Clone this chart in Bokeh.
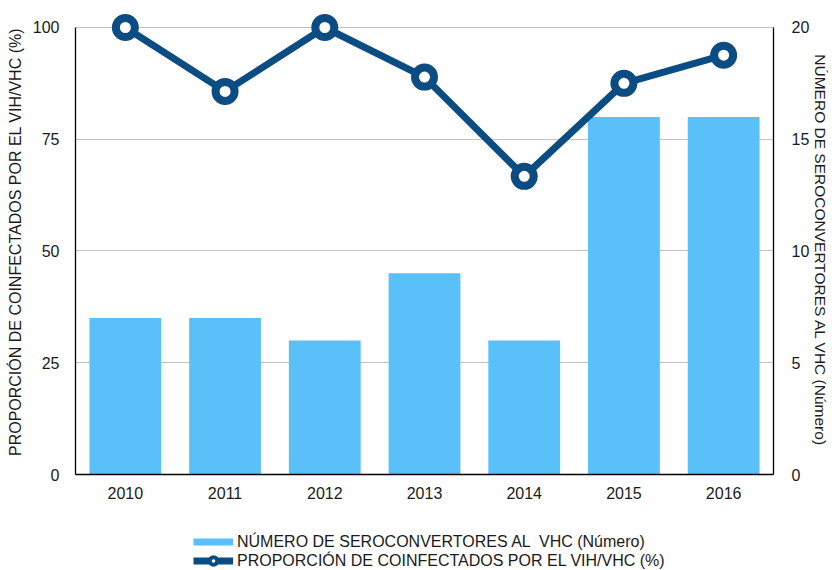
from bokeh.plotting import figure
from bokeh.layouts import column
from bokeh.models import (Range1d, FactorRange, LinearAxis, FixedTicker, Legend,
                          LegendItem, ColumnDataSource)
from bokeh.embed import file_html
from bokeh.resources import INLINE

years = ["2010", "2011", "2012", "2013", "2014", "2015", "2016"]
seroconvertores = [7, 7, 6, 9, 6, 16, 16]
proporcion = [100, 85.7, 100, 88.9, 66.7, 87.5, 93.8]
left_ticks = [0, 25, 50, 75, 100]
right_ticks = [0, 5, 10, 15, 20]

bar_label = "NÚMERO DE SEROCONVERTORES AL  VHC (Número)"
line_label = "PROPORCIÓN DE COINFECTADOS POR EL VIH/VHC (%)"
left_title = "PROPORCIÓN DE COINFECTADOS POR EL VIH/VHC (%)"
right_title = "NÚMERO DE SEROCONVERTORES AL VHC (Número)"

BAR = "#5ac0fa"
LINE = "#0b4c82"
FONT = "Liberation Sans"
TXT = "#1a1a1a"
NB = "\u00a0"

src = ColumnDataSource(dict(year=years, n=seroconvertores, p=proporcion))

p = figure(x_range=FactorRange(*years, range_padding=0), y_range=Range1d(0, 106.04),
           width=832, height=520, output_backend="svg", toolbar_location=None,
           min_border_left=75, min_border_right=56, min_border_top=0, min_border_bottom=46)
p.outline_line_color = None
p.background_fill_color = "white"

p.extra_y_ranges = {"n": Range1d(0, 21.208)}

# left axis
ya = p.yaxis[0]
ya.ticker = FixedTicker(ticks=left_ticks)
ya.bounds = (0, 100)
ya.axis_label = left_title + NB * 2
ya.axis_label_text_font = FONT
ya.axis_label_text_font_size = "16px"
ya.axis_label_text_font_style = "normal"
ya.axis_label_text_color = TXT
ya.axis_label_standoff = 6
ya.major_label_text_font = FONT
ya.major_label_text_font_size = "16px"
ya.major_label_text_color = TXT
ya.major_label_standoff = 10
ya.major_tick_line_color = None
ya.minor_tick_line_color = None
ya.axis_line_color = "black"
ya.axis_line_width = 1.3

ra = LinearAxis(y_range_name="n", ticker=FixedTicker(ticks=right_ticks), bounds=(0, 20))
ra.axis_label = NB * 6 + right_title
ra.axis_label_text_font = FONT
ra.axis_label_text_font_size = "15.5px"
ra.axis_label_text_font_style = "normal"
ra.axis_label_text_color = TXT
ra.axis_label_standoff = 0
ra.major_label_text_font = FONT
ra.major_label_text_font_size = "16px"
ra.major_label_text_color = TXT
ra.major_label_standoff = 12
ra.major_tick_line_color = None
ra.minor_tick_line_color = None
ra.axis_line_color = "black"
ra.axis_line_width = 1.3
p.add_layout(ra, "right")

xa = p.xaxis[0]
xa.major_label_text_font = FONT
xa.major_label_text_font_size = "16px"
xa.major_label_text_color = TXT
xa.major_label_standoff = 6
xa.major_tick_line_color = None
xa.minor_tick_line_color = None
xa.axis_line_color = "black"
xa.axis_line_width = 1.3

p.xgrid.grid_line_color = None
p.ygrid.grid_line_color = "#c2c2c2"
p.ygrid.grid_line_width = 1.2

bars = p.vbar(x="year", top="n", width=0.72, source=src, y_range_name="n",
              fill_color=BAR, line_color=None)
ln = p.line(x="year", y="p", source=src, line_color=LINE, line_width=7)
pts = p.scatter(x="year", y="p", source=src, size=19, fill_color="white",
                line_color=LINE, line_width=8)

# legend strip below the chart (its swatch renderers lie outside its visible range)
lg = figure(width=832, height=50, x_range=FactorRange(*years, range_padding=0),
            y_range=Range1d(-200, -100),
            x_axis_type=None, y_axis_type=None, output_backend="svg",
            toolbar_location=None, min_border_left=0, min_border_right=0,
            min_border_top=0, min_border_bottom=0)
lg.outline_line_color = None
lg.xgrid.visible = False
lg.ygrid.visible = False
sw_bar = lg.line(x="year", y="n", source=src, line_color=BAR, line_width=7)
sw_line = lg.line(x="year", y="p", source=src, line_color=LINE, line_width=7)
sw_pt = lg.scatter(x="year", y="p", source=src, size=19, fill_color="white",
                   line_color=LINE, line_width=4)

legend = Legend(items=[LegendItem(label=bar_label, renderers=[sw_bar]),
                       LegendItem(label=line_label, renderers=[sw_line, sw_pt])],
                location=(118, 0), orientation="vertical",
                glyph_width=40, glyph_height=19, label_height=19, spacing=0,
                padding=0, margin=0, label_standoff=4,
                label_text_font=FONT, label_text_font_size="16px",
                label_text_color=TXT, border_line_color=None,
                background_fill_alpha=0)
lg.add_layout(legend, "center")

open("out.html", "w").write(file_html(column(p, lg, spacing=0), INLINE))
